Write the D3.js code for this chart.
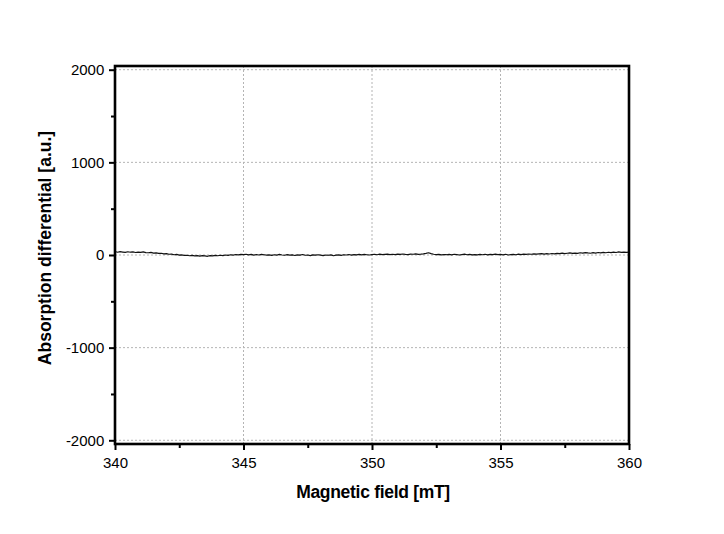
<!DOCTYPE html>
<html>
<head>
<meta charset="utf-8">
<script src="https://cdn.jsdelivr.net/npm/d3@7"></script>
<style>
  html, body { margin: 0; padding: 0; background: #fff; }
  svg { display: block; }
</style>
</head>
<body>
<svg id="chart" width="724" height="534"></svg>
<script>
// ---- data ----
const fieldStart = 340;
const fieldStep = 0.1;
const signal = [
  38, 30, 36, 32, 28, 35, 30, 33, 27, 31,
  29, 33, 26, 24, 28, 20, 22, 17, 19, 12,
  14, 8, 10, 3, 6, -2, 1, -5, -3, -8,
  -4, -10, -6, -12, -7, -9, -14, -6, -10, -5,
  -8, -3, -7, 0, -4, 3, -2, 5, 1, 6,
  4, 8, 2, 6, -1, 5, 0, 7, 3, -2,
  2, -4, 3, -1, 6, 0, -3, 4, -2, 1,
  -5, 2, -1, 5, -3, 0, -6, 1, -2, 3,
  -1, -7, 0, -3, 2, -8, -2, 1, -4, 3,
  0, 5, -2, 4, 1, 7, 2, 6, 3, 0,
  5, 8, 3, 9, 4, 7, 10, 5, 8, 4,
  9, 6, 11, 7, 5, 10, 8, 12, 6, 9,
  13, 18, 24, 15, 8, 4, 7, 1, 5, 3,
  6, 2, 8, 4, 0, 5, 9, 3, 7, 2,
  5, 1, 6, 3, 8, 2, 7, 4, 9, 5,
  6, 2, 8, 0, 4, 7, 3, 9, 5, 10,
  6, 11, 8, 13, 9, 12, 15, 10, 14, 11,
  16, 12, 18, 14, 20, 15, 19, 22, 17, 21,
  18, 24, 20, 26, 22, 19, 25, 21, 27, 23,
  28, 24, 30, 26, 31, 27, 33, 29, 32, 28,
  31
];
const xMajorTicks = [340, 345, 350, 355, 360];
const xMinorTicks = [342.5, 347.5, 352.5, 357.5];
const yMajorTicks = [-2000, -1000, 0, 1000, 2000];
const yMinorTicks = [-1500, -500, 500, 1500];
const xLabel = "Magnetic field [mT]";
const yLabel = "Absorption differential [a.u.]";

// ---- layout ----
const W = 724, H = 534;
const m = { left: 115, right: 95, top: 66, bottom: 90 };
const iw = W - m.left - m.right;
const ih = H - m.top - m.bottom;

const svg = d3.select("#chart");
const g = svg.append("g").attr("transform", `translate(${m.left},${m.top})`);

const x = d3.scaleLinear().domain([340, 360]).range([0, iw]);
const y = d3.scaleLinear().domain([-2040, 2040]).range([ih, 0]);

const font = "'Liberation Sans', Arial, sans-serif";
const fmt = d => String(d);

// grid
g.append("g").selectAll("line").data(xMajorTicks.filter(d => d > 340 && d < 360)).join("line")
  .attr("x1", d => x(d)).attr("x2", d => x(d)).attr("y1", 0).attr("y2", ih)
  .attr("stroke", "#b4b4b4").attr("stroke-width", 1).attr("stroke-dasharray", "2,2");
g.append("g").selectAll("line").data(yMajorTicks).join("line")
  .attr("x1", 0).attr("x2", iw).attr("y1", d => y(d)).attr("y2", d => y(d))
  .attr("stroke", "#b4b4b4").attr("stroke-width", 1).attr("stroke-dasharray", "2,2");

// data line
const pts = signal.map((v, i) => [fieldStart + i * fieldStep, v]);
g.append("path").datum(pts)
  .attr("fill", "none").attr("stroke", "#111").attr("stroke-width", 1.2)
  .attr("stroke-linejoin", "round")
  .attr("d", d3.line().x(d => x(d[0])).y(d => y(d[1])));

// axes
const xAxis = g.append("g").attr("transform", `translate(0,${ih})`)
  .call(d3.axisBottom(x).tickValues(xMajorTicks).tickSize(6).tickPadding(4).tickFormat(fmt));
const xMinor = g.append("g").attr("transform", `translate(0,${ih})`)
  .call(d3.axisBottom(x).tickValues(xMinorTicks).tickSize(4).tickFormat(""));
const yAxis = g.append("g")
  .call(d3.axisLeft(y).tickValues(yMajorTicks).tickSize(6).tickPadding(4).tickFormat(fmt));
const yMinor = g.append("g")
  .call(d3.axisLeft(y).tickValues(yMinorTicks).tickSize(4).tickFormat(""));

[xAxis, xMinor, yAxis, yMinor].forEach(a => {
  a.select(".domain").remove();
  a.selectAll(".tick line").attr("stroke", "#000").attr("stroke-width", 2);
  a.selectAll("text").attr("font-family", font).attr("font-size", 15).attr("fill", "#000");
});
xAxis.selectAll("text").attr("dy", "0.9em");
yAxis.selectAll("text").attr("dx", "-0.05em");

// frame
g.append("rect").attr("x", 0).attr("y", 0).attr("width", iw).attr("height", ih)
  .attr("fill", "none").attr("stroke", "#000").attr("stroke-width", 2.6);

// titles
svg.append("text").attr("x", 373).attr("y", 498)
  .attr("text-anchor", "middle").attr("font-family", font).attr("font-weight", "bold")
  .attr("font-size", 17.5).attr("letter-spacing", "-0.3").attr("fill", "#000").text(xLabel);
svg.append("text").attr("transform", `translate(51,248) rotate(-90)`)
  .attr("text-anchor", "middle").attr("font-family", font).attr("font-weight", "bold")
  .attr("font-size", 17.5).attr("fill", "#000").text(yLabel);
</script>
</body>
</html>
